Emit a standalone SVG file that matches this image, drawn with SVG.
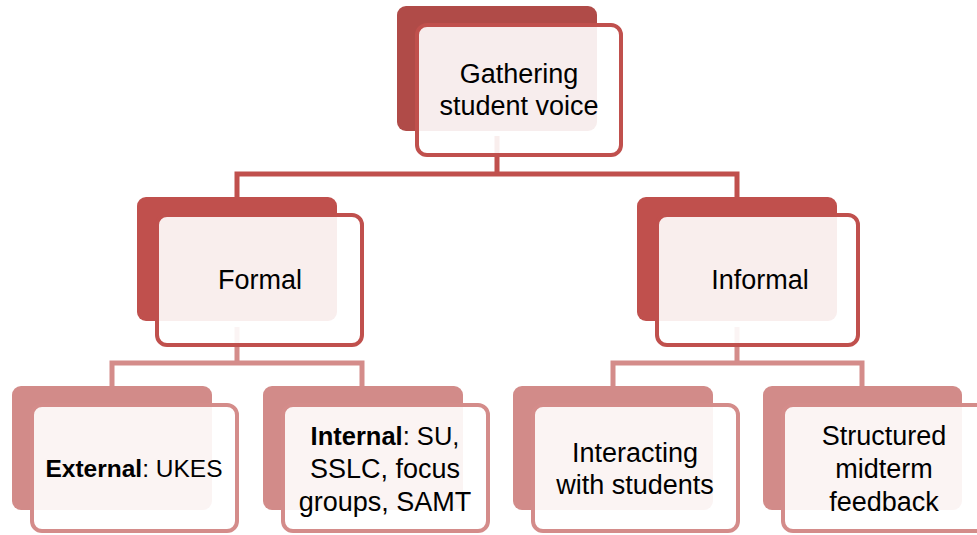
<svg xmlns="http://www.w3.org/2000/svg" width="977" height="535" viewBox="0 0 977 535">
<style>
text{font-family:"Liberation Sans",Arial,sans-serif;font-size:27px;fill:#000;text-anchor:middle}
.b{font-weight:bold}
.front{fill:#fff;fill-opacity:0.9;stroke-width:4}
.l0 .back{fill:#b04b48}
.l0 .front{stroke:#c0504d}
.l1 .back{fill:#c0504d}
.l1 .front{stroke:#c0504d}
.l2 .back{fill:#d28b89}
.l2 .front{stroke:#d48c8a}
.c1{fill:none;stroke:#c0504d;stroke-width:5}
.c2{fill:none;stroke:#d48c8a;stroke-width:5}
</style>
<rect width="977" height="535" fill="#fff"/>
<g id="connectors">
<path class="c1" d="M497,136 V174 M237,197 V174 H737 V197"/>
<path class="c2" d="M237,327 V363 M112,386 V363 H362 V386"/>
<path class="c2" d="M737,327 V363 M613,386 V363 H862 V386"/>
</g>
<g id="n-root" class="l0">
<rect class="back" x="397" y="6" width="200" height="125" rx="9"/>
<rect class="front" x="417" y="25" width="204" height="130" rx="10"/>
<text x="519" y="83">Gathering</text>
<text x="519" y="115">student voice</text>
</g>
<g id="n-formal" class="l1">
<rect class="back" x="137" y="197" width="200" height="124" rx="9"/>
<rect class="front" x="157" y="215" width="205" height="130" rx="10"/>
<text x="260" y="289">Formal</text>
</g>
<g id="n-informal" class="l1">
<rect class="back" x="637" y="197" width="200" height="124" rx="9"/>
<rect class="front" x="657" y="215" width="201" height="130" rx="10"/>
<text x="760" y="289">Informal</text>
</g>
<g id="n-external" class="l2">
<rect class="back" x="12" y="386" width="200" height="124" rx="9"/>
<rect class="front" x="32" y="405" width="205" height="126" rx="10"/>
<text x="134" y="477" style="font-size:24.5px"><tspan class="b">External</tspan>: UKES</text>
</g>
<g id="n-internal" class="l2">
<rect class="back" x="263" y="386" width="200" height="124" rx="9"/>
<rect class="front" x="283" y="405" width="205" height="126" rx="10"/>
<text x="385" y="445" style="font-size:25.5px"><tspan class="b">Internal</tspan>: SU,</text>
<text x="385" y="478">SSLC, focus</text>
<text x="385" y="511">groups, SAMT</text>
</g>
<g id="n-interacting" class="l2">
<rect class="back" x="513" y="386" width="200" height="124" rx="9"/>
<rect class="front" x="533" y="405" width="205" height="126" rx="10"/>
<text x="635" y="462">Interacting</text>
<text x="635" y="494">with students</text>
</g>
<g id="n-structured" class="l2">
<rect class="back" x="763" y="386" width="199" height="124" rx="9"/>
<rect class="front" x="783" y="405" width="205" height="126" rx="10"/>
<text x="884" y="445">Structured</text>
<text x="884" y="478">midterm</text>
<text x="884" y="511">feedback</text>
</g>
</svg>
